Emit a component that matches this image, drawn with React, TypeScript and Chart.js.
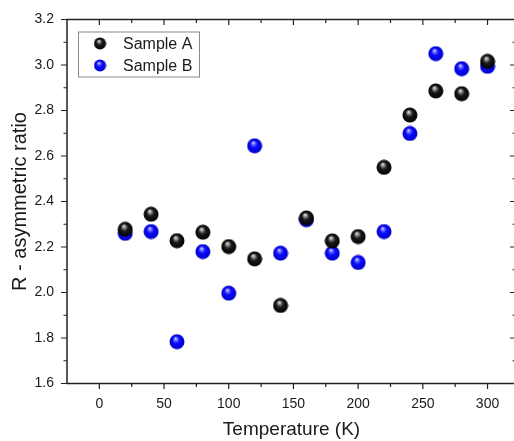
import React, { useEffect, useRef } from 'react';
import { Chart, registerables } from 'chart.js';

Chart.register(...registerables);

const temperatures = [20, 40, 60, 80, 100, 120, 140, 160, 180, 200, 220, 240, 260, 280, 300];
const sampleA = [2.278, 2.344, 2.228, 2.265, 2.202, 2.148, 1.943, 2.328, 2.227, 2.246, 2.55, 2.78, 2.886, 2.874, 3.016];
const sampleB = [2.26, 2.268, 1.784, 2.18, 1.997, 2.645, 2.173, 2.32, 2.173, 2.132, 2.268, 2.699, 3.05, 2.984, 2.994];
const xTicks = [0, 50, 100, 150, 200, 250, 300];
const xMinorTicks = [25, 75, 125, 175, 225, 275];
const yTicks = [1.6, 1.8, 2.0, 2.2, 2.4, 2.6, 2.8, 3.0, 3.2];
const yMinorTicks = [1.7, 1.9, 2.1, 2.3, 2.5, 2.7, 2.9, 3.1];
const seriesLabels = ['Sample A', 'Sample B'];

const FONT = "'Liberation Sans', Arial, sans-serif";
const TEXT = '#1a1a1a';

function makeSphere(stops: [number, string][], r: number) {
  const size = Math.ceil(r * 2) + 1;
  const c = document.createElement('canvas');
  c.width = size;
  c.height = size;
  const ctx = c.getContext('2d')!;
  const cx = size / 2;
  const cy = size / 2;
  const g = ctx.createRadialGradient(cx - r * 0.2, cy - r * 0.45, 0, cx, cy, r);
  stops.forEach(([o, col]) => g.addColorStop(o, col));
  ctx.fillStyle = g;
  ctx.beginPath();
  ctx.arc(cx, cy, r, 0, Math.PI * 2);
  ctx.fill();
  return c;
}

const blackStops: [number, string][] = [
  [0, '#f2f2f2'],
  [0.2, '#999999'],
  [0.48, '#1c1c1c'],
  [1, '#000000'],
];
const blueStops: [number, string][] = [
  [0, '#eeeeff'],
  [0.2, '#7777ff'],
  [0.48, '#0b0bff'],
  [1, '#0000c4'],
];

export default function App() {
  const ref = useRef<HTMLCanvasElement>(null);

  useEffect(() => {
    if (!ref.current) return;
    const sphA = makeSphere(blackStops, 7.5);
    const sphB = makeSphere(blueStops, 7.5);
    const legA = makeSphere(blackStops, 6);
    const legB = makeSphere(blueStops, 6);

    const framePlugin = {
      id: 'frame',
      afterDraw(chart: any) {
        const { ctx, chartArea } = chart;
        const { left, right, top, bottom } = chartArea;
        const xs = chart.scales.x;
        const ys = chart.scales.y;
        ctx.save();
        ctx.strokeStyle = '#222';
        ctx.lineWidth = 1.5;
        ctx.beginPath();
        ctx.rect(left, top, right - left, bottom - top);
        ctx.stroke();
        ctx.lineWidth = 1.2;
        ctx.beginPath();
        const tickX = (v: number, len: number) => {
          const px = xs.getPixelForValue(v);
          ctx.moveTo(px, bottom);
          ctx.lineTo(px, bottom + len);
          ctx.moveTo(px, top);
          ctx.lineTo(px, top + len);
        };
        const tickY = (v: number, len: number) => {
          const py = ys.getPixelForValue(v);
          ctx.moveTo(left, py);
          ctx.lineTo(left - len, py);
          ctx.moveTo(right, py);
          ctx.lineTo(right - len, py);
        };
        xTicks.forEach((v) => tickX(v, 5.5));
        xMinorTicks.forEach((v) => tickX(v, 3.5));
        yTicks.forEach((v) => tickY(v, 6));
        yMinorTicks.forEach((v) => tickY(v, 3.5));
        ctx.stroke();

        // legend
        const bx = left + 11;
        const by = top + 12;
        const bw = 121;
        const bh = 45;
        ctx.fillStyle = '#ffffff';
        ctx.fillRect(bx, by, bw, bh);
        ctx.strokeStyle = '#8a8a8a';
        ctx.lineWidth = 1;
        ctx.strokeRect(bx + 0.5, by + 0.5, bw, bh);
        const imgs = [legA, legB];
        ctx.font = `16px ${FONT}`;
        ctx.fillStyle = TEXT;
        ctx.textBaseline = 'middle';
        ctx.textAlign = 'left';
        seriesLabels.forEach((lab, i) => {
          const cy = by + 12 + i * 22;
          const img = imgs[i];
          ctx.drawImage(img, bx + 22 - img.width / 2, cy - img.height / 2);
          ctx.fillText(lab, bx + 45, cy + 1);
        });
        ctx.restore();
      },
    };

    const chart = new Chart(ref.current, {
      type: 'scatter',
      data: {
        datasets: [
          {
            label: seriesLabels[0],
            data: temperatures.map((t, i) => ({ x: t, y: sampleA[i] })),
            pointStyle: sphA as any,
            pointRadius: 7.5,
            backgroundColor: '#000',
          },
          {
            label: seriesLabels[1],
            data: temperatures.map((t, i) => ({ x: t, y: sampleB[i] })),
            pointStyle: sphB as any,
            pointRadius: 7.5,
            backgroundColor: '#00f',
          },
        ],
      },
      options: {
        responsive: false,
        animation: false,
        layout: { autoPadding: false, padding: { left: 8, top: 19.5, right: 1, bottom: 0 } },
        plugins: { legend: { display: false }, tooltip: { enabled: false } },
        scales: {
          x: {
            type: 'linear',
            min: -25,
            max: 322,
            afterBuildTicks: (s: any) => {
              s.ticks = xTicks.map((v) => ({ value: v }));
            },
            afterFit: (s: any) => {
              s.height = 57.5;
              s.paddingLeft = 0;
              s.paddingRight = 0;
            },
            grid: { display: false, drawTicks: false },
            border: { display: false },
            ticks: {
              padding: 12,
              color: TEXT,
              font: { family: FONT, size: 14 },
              maxRotation: 0,
              autoSkip: false,
            },
            title: {
              display: true,
              text: 'Temperature (K)',
              color: TEXT,
              font: { family: FONT, size: 19 },
              padding: 0,
            },
          },
          y: {
            type: 'linear',
            min: 1.6,
            max: 3.2,
            afterBuildTicks: (s: any) => {
              s.ticks = yTicks.map((v) => ({ value: v }));
            },
            afterFit: (s: any) => {
              s.width = 59;
              s.paddingTop = 0;
              s.paddingBottom = 0;
            },
            grid: { display: false, drawTicks: false },
            border: { display: false },
            ticks: {
              padding: 13,
              color: TEXT,
              font: { family: FONT, size: 14 },
              autoSkip: false,
              callback: (v: any) => Number(v).toFixed(1),
            },
            title: {
              display: true,
              text: 'R - asymmetric ratio',
              color: TEXT,
              font: { family: FONT, size: 20 },
              padding: 0,
            },
          },
        },
      },
      plugins: [framePlugin],
    });
    return () => chart.destroy();
  }, []);

  return (
    <div
      style={{
        position: 'absolute',
        left: 0,
        top: 0,
        width: 514,
        height: 441,
        overflow: 'hidden',
        background: '#fff',
      }}
    >
      <canvas ref={ref} width={517} height={441} style={{ display: 'block' }} />
    </div>
  );
}
